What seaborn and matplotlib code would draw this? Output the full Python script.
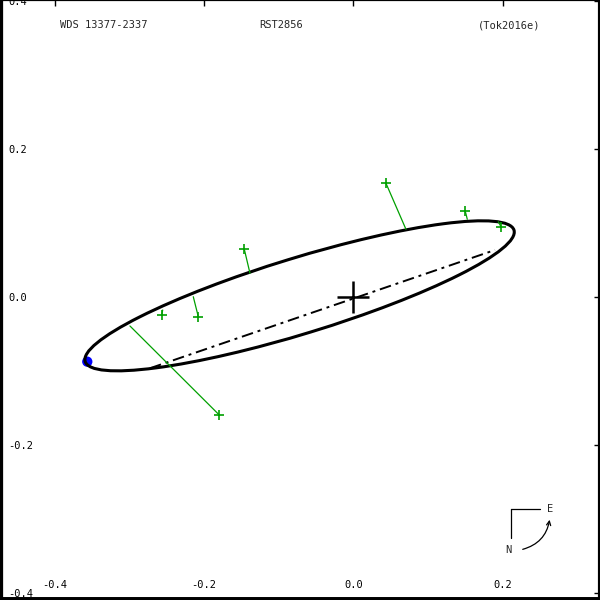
import numpy as np
import pandas as pd
import matplotlib
matplotlib.use("Agg")
import matplotlib.pyplot as plt
import seaborn as sns
from matplotlib.patches import Ellipse, FancyArrowPatch

# -------------------------------
# Orbit data (arcsec)
# -------------------------------
obs_x = [-0.1798, -0.2079, -0.2570, -0.1462, 0.0437, 0.1500, 0.1979]
obs_y = [-0.1595, -0.0265, -0.0242, 0.0647, 0.1540, 0.1161, 0.0953]
fit_x = [-0.2995, -0.2146, -0.2556, -0.1386, 0.0705, 0.1527, 0.1942]
fit_y = [-0.0391, 0.0005, -0.0175, 0.0322, 0.0917, 0.1053, 0.1020]

periastron_x = [-0.3567]
periastron_y = [-0.0874]

node_x = [-0.2727, 0.1898]
node_y = [-0.0963, 0.0637]

ell_center = (-0.0721, 0.0017)
ell_width = 0.6017
ell_height = 0.1024
ell_angle = 17.2

x_ticks = [-0.4, -0.2, 0.0, 0.2]
y_ticks = [-0.4, -0.2, 0.0, 0.2, 0.4]

obs = pd.DataFrame({'x': obs_x, 'y': obs_y})
peri = pd.DataFrame({'x': periastron_x, 'y': periastron_y})

# -------------------------------
# Figure
# -------------------------------
sns.set_style("white")
plt.rcParams['font.family'] = ['DejaVu Sans Mono', 'DejaVu Sans']

fig = plt.figure(figsize=(6, 6), dpi=100)
ax = fig.add_axes([0, 0, 1, 1])
ax.set_xlim(-0.4737, 0.3306)
ax.set_ylim(-0.4099, 0.4020)

green = '#00a000'

# periastron dot (under the orbit line)
sns.scatterplot(data=peri, x='x', y='y', ax=ax, color='#0000ff', s=55,
                edgecolor='none', zorder=2)

# apparent orbit
ax.add_patch(Ellipse(ell_center, ell_width, ell_height, angle=ell_angle,
                     fill=False, edgecolor='black', lw=2.2, zorder=3))

# line of nodes
ax.plot(node_x, node_y, color='black', lw=1.4, dashes=[6, 2.5, 1.5, 2.5], zorder=3)

# O-C residual lines
for xo, yo, xf, yf in zip(obs_x, obs_y, fit_x, fit_y):
    ax.plot([xo, xf], [yo, yf], color=green, lw=0.9, zorder=4)

sns.scatterplot(data=obs, x='x', y='y', ax=ax, marker='+', color=green,
                s=45, linewidth=1.2, zorder=5)

# primary star
ax.plot([0], [0], marker='+', color='black', ms=23, mew=1.8, zorder=6)

ax.set_xlabel('')
ax.set_ylabel('')

# -------------------------------
# Frame and ticks
# -------------------------------
for side in ['left', 'bottom', 'top', 'right']:
    ax.spines[side].set_visible(True)
    ax.spines[side].set_color('black')
ax.spines['left'].set_linewidth(4.5)
ax.spines['bottom'].set_linewidth(5.0)
ax.spines['top'].set_linewidth(1.6)
ax.spines['right'].set_linewidth(3.0)

ax.set_xticks(x_ticks)
ax.set_yticks(y_ticks)
ax.set_xticklabels([f'{v:.1f}' for v in x_ticks])
ax.set_yticklabels([f'{v:.1f}' for v in y_ticks])
ax.tick_params(axis='both', direction='in', length=4.5, width=1.0,
               colors='black', labelsize=7.5, top=True, right=True)
ax.tick_params(axis='x', pad=-14.5)
ax.tick_params(axis='y', pad=-6.0)
plt.setp(ax.get_yticklabels(), ha='left')

# -------------------------------
# Header texts
# -------------------------------
ax.text(0.10, 0.958, 'WDS 13377-2337', transform=ax.transAxes,
        ha='left', va='center', fontsize=7.5)
ax.text(0.468, 0.958, 'RST2856', transform=ax.transAxes,
        ha='center', va='center', fontsize=7.5)
ax.text(0.849, 0.958, '(Tok2016e)', transform=ax.transAxes,
        ha='center', va='center', fontsize=7.5)

# -------------------------------
# Compass
# -------------------------------
ax.plot([0.8517, 0.90], [0.1517, 0.1517], color='black', lw=0.9,
        transform=ax.transAxes)
ax.plot([0.8517, 0.8517], [0.1517, 0.1033], color='black', lw=0.9,
        transform=ax.transAxes)
ax.text(0.9167, 0.1517, 'E', transform=ax.transAxes, ha='center',
        va='center', fontsize=7.5)
ax.text(0.8467, 0.0833, 'N', transform=ax.transAxes, ha='center',
        va='center', fontsize=7.5)
ax.add_patch(FancyArrowPatch((0.8667, 0.0833), (0.9167, 0.1383),
                             transform=ax.transAxes,
                             connectionstyle='arc3,rad=0.35',
                             arrowstyle='->,head_length=3,head_width=1.5',
                             color='black', lw=0.9))

fig.savefig('out.png', dpi=100)
